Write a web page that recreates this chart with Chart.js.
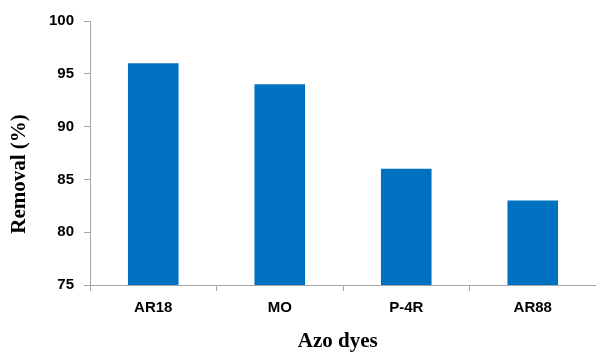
<!DOCTYPE html>
<html>
<head>
<meta charset="utf-8">
<script src="https://cdn.jsdelivr.net/npm/chart.js@4"></script>
<style>
    html, body { margin: 0; padding: 0; background: #fff; }
    #wrap { width: 596px; height: 352px; }
</style>
</head>
<body>
<div id="wrap"><canvas id="barChart" width="596" height="352"></canvas></div>
<script>
const dyes = ['AR18', 'MO', 'P-4R', 'AR88'];
const removal = [96, 94, 86, 83];
const yTicks = [75, 80, 85, 90, 95, 100];

const axisGrey = '#a6a6a6';

const ctx = document.getElementById('barChart').getContext('2d');
new Chart(ctx, {
    type: 'bar',
    data: {
        labels: dyes,
        datasets: [{
            label: 'Removal (%)',
            data: removal,
            backgroundColor: '#0070C0',
            borderWidth: 0,
            barPercentage: 0.4,
            categoryPercentage: 1
        }]
    },
    options: {
        responsive: false,
        animation: false,
        layout: { padding: { top: 21, right: 0, left: 0, bottom: 0 } },
        plugins: {
            legend: { display: false },
            tooltip: { enabled: false }
        },
        scales: {
            x: {
                grid: {
                    drawOnChartArea: false,
                    drawTicks: true,
                    tickLength: 6,
                    color: axisGrey
                },
                border: { color: axisGrey },
                ticks: {
                    color: '#000',
                    padding: 8,
                    font: { family: 'Liberation Sans', size: 15, weight: 'bold' }
                },
                title: {
                    display: true,
                    text: 'Azo dyes  ',
                    color: '#000',
                    padding: 0,
                    font: { family: 'Liberation Serif', size: 21, weight: 'bold', lineHeight: 1 }
                },
                afterFit: (scale) => { scale.height = 67; }
            },
            y: {
                min: 75,
                max: 100,
                afterBuildTicks: (scale) => { scale.ticks = yTicks.map(v => ({ value: v })); },
                grid: {
                    drawOnChartArea: false,
                    drawTicks: true,
                    tickLength: 6,
                    color: axisGrey
                },
                border: { color: axisGrey },
                ticks: {
                    color: '#000',
                    padding: 10,
                    font: { family: 'Liberation Sans', size: 15, weight: 'bold' }
                },
                title: {
                    display: true,
                    text: 'Removal (%)        ',
                    color: '#000',
                    padding: { top: 7, bottom: 0 },
                    font: { family: 'Liberation Serif', size: 21, weight: 'bold', lineHeight: 1.2 }
                },
                afterFit: (scale) => { scale.width = 90; }
            }
        }
    }
});
</script>
</body>
</html>
